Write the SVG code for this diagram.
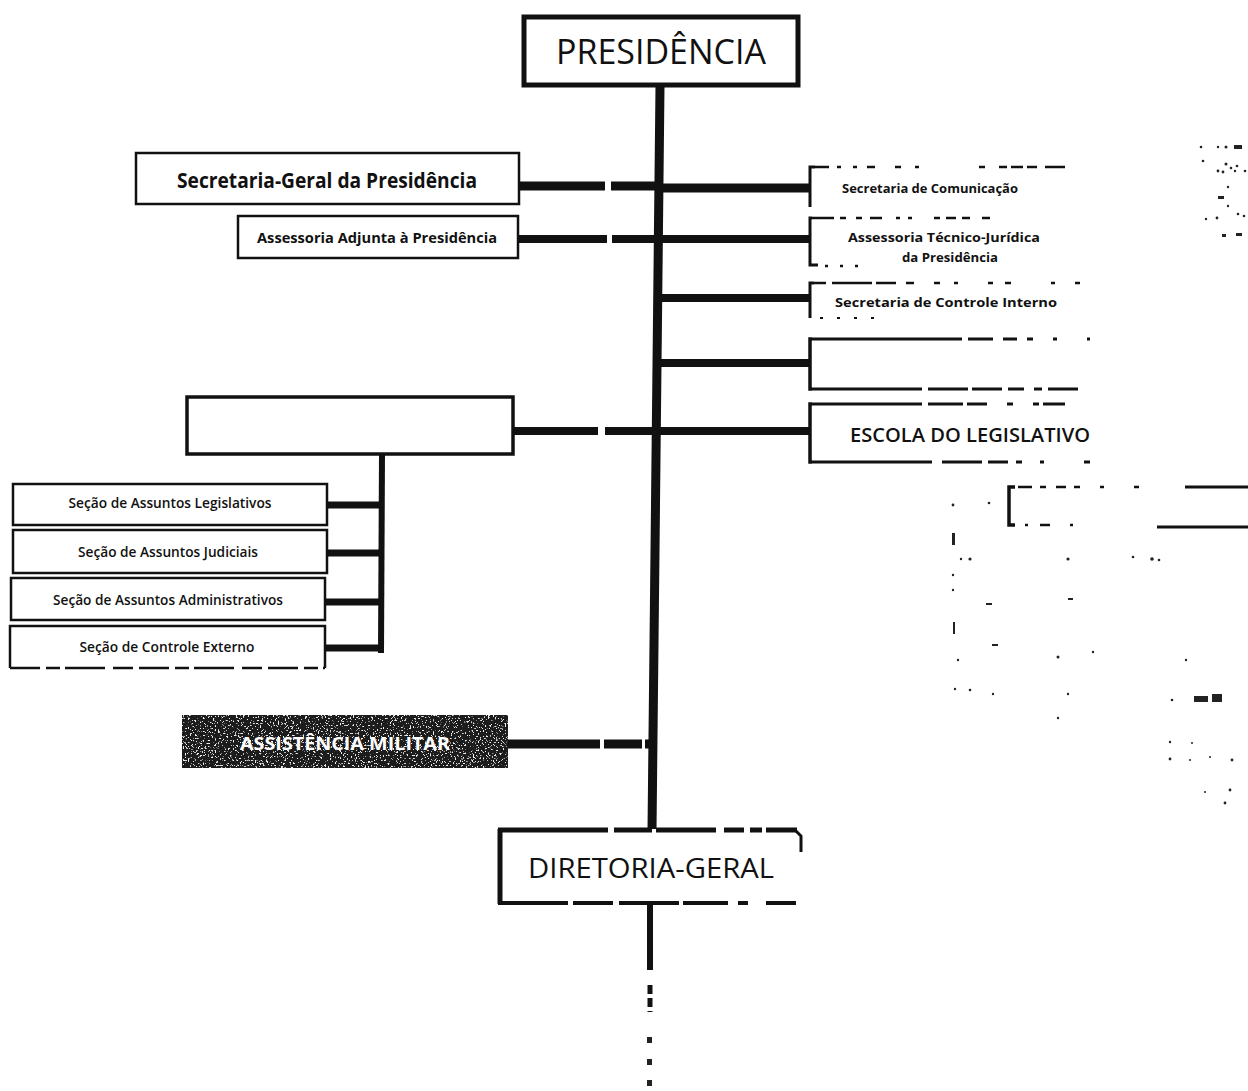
<svg xmlns="http://www.w3.org/2000/svg" width="1248" height="1091" viewBox="0 0 1248 1091">
  <style>
    .box { fill: #fff; stroke: #111; }
    .t { font-family: "Open Sans", "Liberation Sans", sans-serif; fill: #111; text-anchor: middle; }
    .bar { stroke: #111; stroke-linecap: butt; fill: none; }
    .frag { stroke: #111; fill: none; }
    .dot { fill: #222; }
  </style>
  <defs>
    <!-- sparse light speckles for the dark military box -->
    <filter id="speckle" x="0" y="0" width="100%" height="100%">
      <feTurbulence type="fractalNoise" baseFrequency="0.6" numOctaves="2" seed="7" result="n"/>
      <feColorMatrix in="n" type="matrix" values="0 0 0 0 0.85  0 0 0 0 0.85  0 0 0 0 0.85  14 0 0 0 -8.6" result="w"/>
      <feComposite in="w" in2="SourceGraphic" operator="in" result="spots"/>
      <feMerge><feMergeNode in="SourceGraphic"/><feMergeNode in="spots"/></feMerge>
    </filter>
  </defs>

  <rect width="1248" height="1091" fill="#fff"/>

  <!-- connectors -->
  <g id="connectors">
    <!-- main trunk -->
    <line class="bar" x1="660" y1="86" x2="652" y2="830" stroke-width="9"/>
    <!-- left branches (each broken near the trunk) -->
    <line class="bar" x1="519" y1="186" x2="605" y2="186" stroke-width="9"/>
    <line class="bar" x1="611" y1="186" x2="657" y2="186" stroke-width="9"/>
    <line class="bar" x1="518" y1="239" x2="607" y2="239" stroke-width="8"/>
    <line class="bar" x1="612" y1="239" x2="657" y2="239" stroke-width="8"/>
    <line class="bar" x1="513" y1="431" x2="598" y2="431" stroke-width="8"/>
    <line class="bar" x1="605" y1="431" x2="655" y2="431" stroke-width="8"/>
    <line class="bar" x1="508" y1="744" x2="600" y2="744" stroke-width="9"/>
    <line class="bar" x1="604" y1="744" x2="642" y2="744" stroke-width="9"/>
    <line class="bar" x1="645" y1="744" x2="653" y2="744" stroke-width="9"/>
    <!-- right branches -->
    <line class="bar" x1="660" y1="188" x2="810" y2="188" stroke-width="9"/>
    <line class="bar" x1="660" y1="239" x2="810" y2="239" stroke-width="8"/>
    <line class="bar" x1="659" y1="298" x2="810" y2="298" stroke-width="8"/>
    <line class="bar" x1="658" y1="363" x2="810" y2="363" stroke-width="8"/>
    <line class="bar" x1="657" y1="431" x2="810" y2="431" stroke-width="8"/>
    <!-- sub-trunk of the legal sections -->
    <line class="bar" x1="382" y1="454" x2="381" y2="653" stroke-width="6"/>
    <line class="bar" x1="327" y1="505" x2="384" y2="505" stroke-width="7"/>
    <line class="bar" x1="327" y1="553" x2="384" y2="553" stroke-width="7"/>
    <line class="bar" x1="325" y1="602" x2="384" y2="602" stroke-width="7"/>
    <line class="bar" x1="325" y1="648" x2="384" y2="648" stroke-width="7"/>
    <!-- continuation below the general directorate -->
    <line class="bar" x1="650" y1="905" x2="650" y2="970" stroke-width="6" stroke="#555"/>
    <line class="bar" x1="650" y1="905" x2="650" y2="970" stroke-width="3" stroke="#ddd" stroke-dasharray="3 9"/>
    <line class="bar" x1="650" y1="985" x2="650" y2="1012" stroke-width="5" stroke-dasharray="9 4"/>
    <rect class="dot" x="647" y="1037" width="5" height="6"/>
    <rect class="dot" x="647" y="1059" width="5" height="6"/>
    <rect class="dot" x="647" y="1080" width="5" height="6"/>
  </g>

  <!-- top node -->
  <g id="presidencia">
    <rect class="box" x="524" y="17" width="274" height="68" stroke-width="5"/>
    <text class="t" x="661" y="64" font-size="34" textLength="210" lengthAdjust="spacingAndGlyphs">PRESIDÊNCIA</text>
  </g>

  <g id="secretaria-geral">
    <rect class="box" x="136" y="153" width="383" height="51" stroke-width="2.5"/>
    <text class="t" x="327" y="188" font-size="21" font-weight="700" textLength="300" lengthAdjust="spacingAndGlyphs">Secretaria-Geral da Presidência</text>
  </g>

  <g id="assessoria-adjunta">
    <rect class="box" x="238" y="216" width="280" height="42" stroke-width="2.5"/>
    <text class="t" x="377" y="243" font-size="15" font-weight="700" textLength="240" lengthAdjust="spacingAndGlyphs">Assessoria Adjunta à Presidência</text>
  </g>

  <g id="assessoria-juridica">
    <rect class="box" x="187" y="397" width="326" height="57" stroke-width="3.5"/>
  </g>

  <g id="secao-legislativos">
    <rect class="box" x="13" y="484" width="314" height="41" stroke-width="2.5"/>
    <text class="t" x="170" y="508" font-size="14" font-weight="600" textLength="203" lengthAdjust="spacingAndGlyphs">Seção de Assuntos Legislativos</text>
  </g>
  <g id="secao-judiciais">
    <rect class="box" x="13" y="530" width="314" height="43" stroke-width="2.5"/>
    <text class="t" x="168" y="557" font-size="14" font-weight="600" textLength="180" lengthAdjust="spacingAndGlyphs">Seção de Assuntos Judiciais</text>
  </g>
  <g id="secao-administrativos">
    <rect class="box" x="11" y="578" width="314" height="42" stroke-width="2.5"/>
    <text class="t" x="168" y="605" font-size="14" font-weight="600" textLength="230" lengthAdjust="spacingAndGlyphs">Seção de Assuntos Administrativos</text>
  </g>
  <g id="secao-controle-externo">
    <path class="frag" d="M10 668 V626 H325 V668" stroke-width="2.5"/>
    <path class="frag" d="M10 668 H325" stroke-width="2.5" stroke-dasharray="30 6 14 5 40 8 20 6"/>
    <text class="t" x="167" y="652" font-size="14" font-weight="600" textLength="175" lengthAdjust="spacingAndGlyphs">Seção de Controle Externo</text>
  </g>

  <g id="assistencia-militar">
    <rect x="182" y="715" width="326" height="53" fill="#1e1e1e" filter="url(#speckle)"/>
    <text x="345" y="750" font-family="Open Sans, Liberation Sans, sans-serif" font-size="18" font-weight="700" fill="#ffffff" text-anchor="middle" textLength="210" lengthAdjust="spacingAndGlyphs">ASSISTÊNCIA MILITAR</text>
  </g>

  <g id="diretoria-geral">
    <rect x="498" y="829" width="300" height="75" fill="#fff"/>
    <path class="frag" d="M500 829 V904" stroke-width="5"/>
    <path class="frag" d="M498 830 H797" stroke-width="5" stroke-dasharray="110 6 38 4 60 8 20 6 12 4"/>
    <path class="frag" d="M498 903 H797" stroke-width="4" stroke-dasharray="70 5 40 6 60 4 45 10 10 18 30"/>
    <path class="frag" d="M796 831 L801 836 V852" stroke-width="3"/>
    <text class="t" x="651" y="878" font-size="28" textLength="246" lengthAdjust="spacingAndGlyphs">DIRETORIA-GERAL</text>
  </g>

  <!-- right-hand units, open on the right -->
  <g id="secretaria-comunicacao">
    <path class="frag" d="M815 167 H810 V207" stroke-width="3"/>
    <path class="frag" d="M815 167 H1070" stroke-width="2.5" stroke-dasharray="14 8 4 12 4 10 8 20 6 14 4 60 6"/>
    <text class="t" x="930" y="193" font-size="13" font-weight="700" textLength="176" lengthAdjust="spacingAndGlyphs">Secretaria de Comunicação</text>
  </g>
  <g id="assessoria-tecnico-juridica">
    <path class="frag" d="M812 218 H810 V265 H818" stroke-width="3"/>
    <path class="frag" d="M812 218 H990" stroke-width="2.5" stroke-dasharray="22 6 6 10 6 8 12 14 4 8 4"/>
    <path class="frag" d="M825 266 H860" stroke-width="2.5" stroke-dasharray="3 12"/>
    <text class="t" x="944" y="242" font-size="13" font-weight="700" textLength="192" lengthAdjust="spacingAndGlyphs">Assessoria Técnico-Jurídica</text>
    <text class="t" x="950" y="262" font-size="13" font-weight="700" textLength="96" lengthAdjust="spacingAndGlyphs">da Presidência</text>
  </g>
  <g id="secretaria-controle-interno">
    <path class="frag" d="M814 283 H810 V318" stroke-width="3"/>
    <path class="frag" d="M814 283 H1080" stroke-width="2.5" stroke-dasharray="12 6 40 4 20 10 8 20 6 14 4 30 5"/>
    <path class="frag" d="M820 318 H880" stroke-width="2" stroke-dasharray="3 14"/>
    <text class="t" x="946" y="307" font-size="13" font-weight="700" textLength="222" lengthAdjust="spacingAndGlyphs">Secretaria de Controle Interno</text>
  </g>
  <g id="chefia">
    <path class="frag" d="M812 339 H810 V389 H812" stroke-width="3.5"/>
    <path class="frag" d="M812 339 H1090" stroke-width="3" stroke-dasharray="150 6 25 10 14 10 6 20 4 30"/>
    <path class="frag" d="M812 389 H1090" stroke-width="3" stroke-dasharray="110 6 40 4 30 6 16 10 8 6 30"/>
  </g>
  <g id="escola-legislativo">
    <path class="frag" d="M812 404 H810 V462 H812" stroke-width="3.5"/>
    <path class="frag" d="M812 404 H1065" stroke-width="3" stroke-dasharray="110 6 35 4 20 20 6 20 6 4"/>
    <path class="frag" d="M812 462 H1090" stroke-width="3" stroke-dasharray="120 10 40 6 20 8 6 18 4 40"/>
    <text class="t" x="970" y="442" font-size="20" font-weight="600" textLength="240" lengthAdjust="spacingAndGlyphs">ESCOLA DO LEGISLATIVO</text>
  </g>
  <g id="unidade-direita">
    <path class="frag" d="M1015 487 H1009 V525 H1015" stroke-width="3.5"/>
    <path class="frag" d="M1018 487 H1150" stroke-width="2.5" stroke-dasharray="14 8 6 10 10 8 6 20 4 30 5"/>
    <path class="frag" d="M1185 487 H1248" stroke-width="3"/>
    <path class="frag" d="M1025 525 H1085" stroke-width="2.5" stroke-dasharray="3 12 10 20"/>
    <path class="frag" d="M1157 527 H1248" stroke-width="3"/>
  </g>

  <!-- scattered print remnants on the right -->
  <g id="remnants" class="dot">
    <circle cx="1201" cy="147" r="1.3"/><circle cx="1218" cy="147" r="1.2"/><circle cx="1226" cy="147" r="1.5"/>
    <rect x="1234" y="145" width="8" height="4"/><circle cx="1203" cy="161" r="1.3"/>
    <circle cx="1226" cy="164" r="1.5"/><circle cx="1231" cy="168" r="1.3"/><circle cx="1237" cy="166" r="1.3"/>
    <circle cx="1218" cy="171" r="1.4"/><circle cx="1223" cy="172" r="1.4"/><circle cx="1235" cy="171" r="1.2"/><circle cx="1245" cy="171" r="1.3"/>
    <circle cx="1228" cy="187" r="1.2"/><rect x="1218" y="196" width="6" height="3"/><circle cx="1228" cy="206" r="1.2"/>
    <circle cx="1206" cy="219" r="1.2"/><circle cx="1217" cy="218" r="1.4"/><circle cx="1238" cy="214" r="1.3"/><circle cx="1244" cy="216" r="1.3"/>
    <rect x="1222" y="234" width="4" height="3"/><rect x="1236" y="233" width="6" height="3"/>
    <circle cx="953" cy="505" r="1.4"/><circle cx="989" cy="503" r="1.3"/>
    <rect x="952" y="533" width="3" height="12"/><circle cx="961" cy="559" r="1.2"/><circle cx="970" cy="559" r="1.6"/>
    <circle cx="1068" cy="559" r="1.6"/><circle cx="1133" cy="557" r="1.3"/><circle cx="1152" cy="559" r="1.8"/><circle cx="1159" cy="560" r="1.3"/>
    <circle cx="953" cy="575" r="1.2"/><circle cx="953" cy="590" r="1.2"/><rect x="986" y="603" width="6" height="2"/>
    <rect x="1068" y="598" width="5" height="2"/><rect x="953" y="622" width="2" height="12"/><rect x="992" y="644" width="6" height="2"/>
    <circle cx="958" cy="660" r="1.2"/><circle cx="1058" cy="657" r="1.5"/><circle cx="1093" cy="652" r="1.2"/>
    <circle cx="1186" cy="660" r="1.2"/><circle cx="955" cy="689" r="1.2"/><circle cx="970" cy="690" r="1.3"/>
    <circle cx="993" cy="694" r="1.2"/><circle cx="1068" cy="694" r="1.2"/><circle cx="1172" cy="700" r="1.3"/>
    <rect x="1194" y="696" width="14" height="6"/><rect x="1212" y="694" width="10" height="8"/>
    <circle cx="1058" cy="718" r="1.2"/><circle cx="1170" cy="742" r="1.2"/><circle cx="1192" cy="743" r="1"/>
    <circle cx="1170" cy="759" r="1.4"/><circle cx="1190" cy="760" r="1"/><circle cx="1210" cy="757" r="1"/><circle cx="1232" cy="760" r="1.4"/>
    <circle cx="1205" cy="792" r="1"/><circle cx="1230" cy="790" r="1.4"/><circle cx="1225" cy="803" r="1.4"/>
  </g>
</svg>
